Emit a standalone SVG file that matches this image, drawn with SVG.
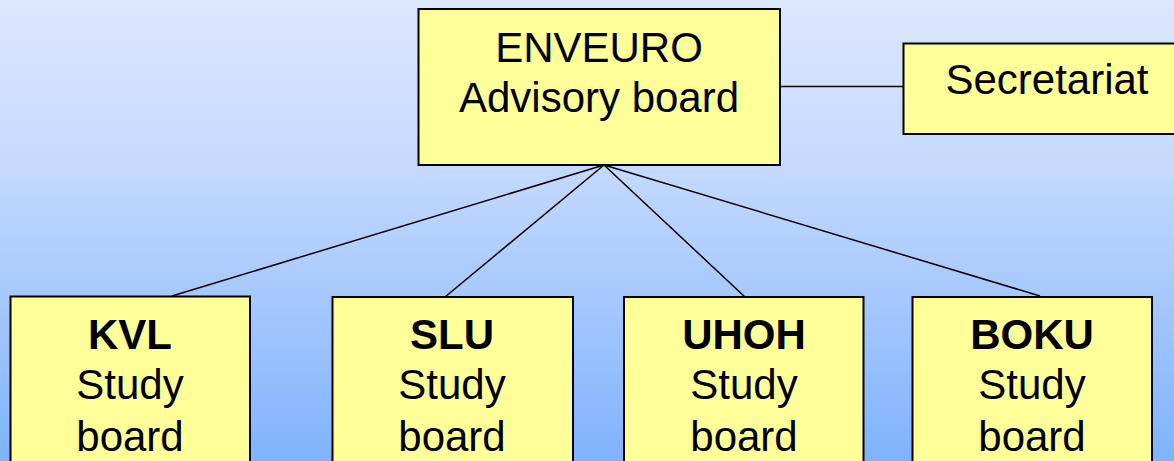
<svg xmlns="http://www.w3.org/2000/svg" width="1174" height="461" viewBox="0 0 1174 461">
<defs>
<linearGradient id="bg" x1="0" y1="0" x2="0" y2="1">
<stop offset="0" stop-color="#dde7fd"/>
<stop offset="0.35" stop-color="#c6dafd"/>
<stop offset="1" stop-color="#7fb3fd"/>
</linearGradient>
<style>
.box{fill:#ffff99;stroke:#000;stroke-width:2}
.t{font-family:"Liberation Sans",Arial,sans-serif;font-size:42px;fill:#000;text-anchor:middle}
.b{font-weight:bold}
.c{stroke:#000;stroke-width:1.5;fill:none}
</style>
</defs>
<rect width="1174" height="461" fill="url(#bg)"/>
<g id="connectors">
<line class="c" x1="780" y1="86.5" x2="903" y2="86.5"/>
<line class="c" x1="604" y1="165" x2="172" y2="296"/>
<line class="c" x1="604" y1="165" x2="445" y2="297"/>
<line class="c" x1="604" y1="165" x2="745" y2="297"/>
<line class="c" x1="604" y1="165" x2="1040" y2="296"/>
</g>
<g id="advisory">
<rect class="box" x="418.5" y="9" width="361.5" height="156"/>
<text class="t" x="599" y="62">ENVEURO</text>
<text class="t" x="599" y="112">Advisory board</text>
</g>
<g id="secretariat">
<rect class="box" x="903.5" y="43.5" width="280" height="90.5"/>
<text class="t" x="1047" y="94">Secretariat</text>
</g>
<g id="kvl">
<rect class="box" x="10.5" y="296.5" width="239.5" height="180"/>
<text class="t b" x="130" y="349">KVL</text>
<text class="t" x="130" y="399">Study</text>
<text class="t" x="130" y="451">board</text>
</g>
<g id="slu">
<rect class="box" x="332.5" y="297" width="240.5" height="180"/>
<text class="t b" x="452" y="349">SLU</text>
<text class="t" x="452" y="399">Study</text>
<text class="t" x="452" y="451">board</text>
</g>
<g id="uhoh">
<rect class="box" x="624" y="297" width="239.5" height="180"/>
<text class="t b" x="744" y="349">UHOH</text>
<text class="t" x="744" y="399">Study</text>
<text class="t" x="744" y="451">board</text>
</g>
<g id="boku">
<rect class="box" x="912.5" y="297" width="239.5" height="180"/>
<text class="t b" x="1032" y="349">BOKU</text>
<text class="t" x="1032" y="399">Study</text>
<text class="t" x="1032" y="451">board</text>
</g>
</svg>
